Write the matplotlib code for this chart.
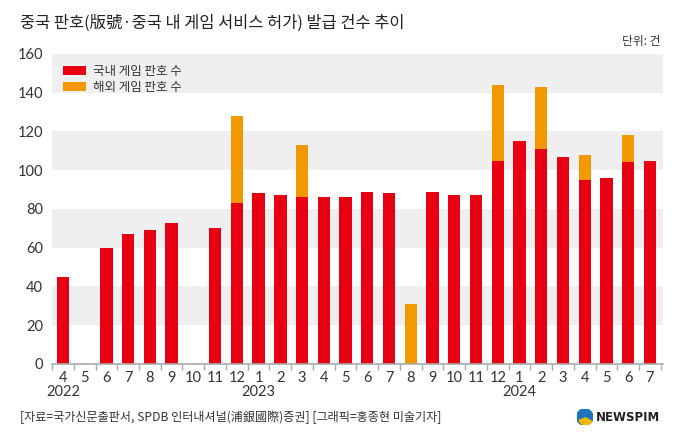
import matplotlib.pyplot as plt
from matplotlib.patches import Circle, Wedge

plt.rcParams['font.family'] = ['Noto Sans CJK KR', 'DejaVu Sans']

months = ['4', '5', '6', '7', '8', '9', '10', '11', '12',
          '1', '2', '3', '4', '5', '6', '7', '8', '9', '10', '11', '12',
          '1', '2', '3', '4', '5', '6', '7']
years = {0: '2022', 9: '2023', 21: '2024'}
domestic = [45, 0, 60, 67, 69, 73, 0, 70, 83,
            88, 87, 86, 86, 86, 89, 88, 0, 89, 87, 87, 105,
            115, 111, 107, 95, 96, 104, 105]
foreign = [0, 0, 0, 0, 0, 0, 0, 0, 45,
           0, 0, 27, 0, 0, 0, 0, 31, 0, 0, 0, 39,
           0, 32, 0, 13, 0, 14, 0]

red = '#E60012'
orange = '#F39800'
txt = '#333333'

fig = plt.figure(figsize=(6.8, 4.42), dpi=100)
ax = fig.add_axes([0.0765, 0.1765, 0.8985, 0.7015])

# alternating grey bands
for lo in (20, 60, 100, 140):
    ax.axhspan(lo, lo + 20, color='#EFEFEF', zorder=0, lw=0)

x = list(range(len(months)))
ax.bar(x, domestic, width=0.57, color=red, zorder=2, label='국내 게임 판호 수')
ax.bar(x, foreign, width=0.57, bottom=domestic, color=orange, zorder=2, label='해외 게임 판호 수')

ax.set_xlim(-0.5, 27.6)
ax.set_ylim(0, 160)
ax.set_yticks(range(0, 161, 20))
ax.tick_params(axis='y', length=0, pad=6.5)
ax.set_xticks(x)
ax.set_xticklabels(months)
ax.tick_params(axis='x', length=0, pad=5)
for lab in ax.get_xticklabels() + ax.get_yticklabels():
    lab.set_family('Lato')
    lab.set_fontsize(10.5)
    lab.set_color(txt)
ax.set_xticks([i - 0.5 for i in range(len(months) + 1)], minor=True)
ax.tick_params(axis='x', which='minor', length=4, color='#AAAAAA', width=1)

for s in ('top', 'right', 'left'):
    ax.spines[s].set_visible(False)
ax.spines['bottom'].set_color('#AAAAAA')
ax.spines['bottom'].set_linewidth(1.2)

for i, y in years.items():
    ax.text(i, -14.3, y, ha='center', va='center', fontsize=10.5, color=txt, family='Lato')

leg = ax.legend(loc='upper left', bbox_to_anchor=(0.006, 0.99), frameon=False,
                fontsize=9, handlelength=1.8, handleheight=0.75,
                labelspacing=0.25, handletextpad=0.6, borderaxespad=0.2)
for t in leg.get_texts():
    t.set_color(txt)

fig.text(0.03, 0.948, '중국 판호(版號·중국 내 게임 서비스 허가) 발급 건수 추이',
         fontsize=11.8, color='#222222', va='center')
fig.text(0.972, 0.907, '단위: 건', fontsize=8.5, color=txt, ha='right', va='center')
fig.text(0.03, 0.055, '[자료=국가신문출판서, SPDB 인터내셔널(浦銀國際)증권] [그래픽=홍종현 미술기자]',
         fontsize=8.7, color=txt, va='center')

# NEWSPIM logo
lax = fig.add_axes([0.848, 0.038, 0.024, 0.037])
lax.set_xlim(-1, 1)
lax.set_ylim(-1, 1)
lax.set_aspect('equal')
lax.axis('off')
lax.add_patch(Circle((0, 0), 1, color='#1E73BE'))
lax.add_patch(Wedge((0.1, -0.1), 0.85, 200, 330, color='#F6B800'))
fig.text(0.877, 0.056, 'NEWSPIM', fontsize=8.5, fontweight='bold', color='#222222', va='center',
         family='DejaVu Sans')

fig.savefig('out.png', dpi=100)
